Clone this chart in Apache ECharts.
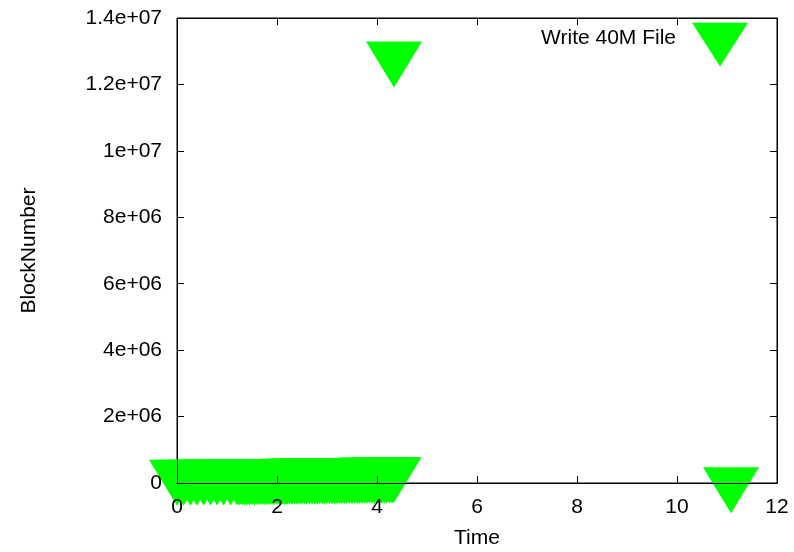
<!DOCTYPE html>
<html>
<head>
<meta charset="utf-8">
<script src="https://cdn.jsdelivr.net/npm/echarts@6/dist/echarts.min.js"></script>
<style>
  html, body { margin: 0; padding: 0; background: #fff; }
  #chart { width: 794px; height: 552px; }
</style>
</head>
<body>
<div id="chart"></div>
<script>
// seconds since start of the write
var times = [
  0, 0.13, 0.27, 0.4, 0.53, 0.67, 0.8, 0.93, 1.07, 1.2,
  1.25, 1.3, 1.35, 1.4, 1.45, 1.5, 1.55, 1.6, 1.65, 1.7,
  1.75, 1.8, 1.85, 1.9, 1.95, 2.0, 2.05, 2.1, 2.15, 2.2,
  2.25, 2.3, 2.35, 2.4, 2.45, 2.5, 2.55, 2.6, 2.65, 2.7,
  2.75, 2.8, 2.85, 2.9, 2.95, 3.0, 3.05, 3.1, 3.15, 3.2,
  3.25, 3.3, 3.35, 3.4, 3.45, 3.5, 3.55, 3.6, 3.65, 3.7,
  3.75, 3.8, 3.85, 3.9, 3.95, 4.0, 4.05, 4.1, 4.15, 4.2,
  4.25, 4.3, 4.33, 4.34, 11.08
];
// block number written at each time
var blocks = [
  250000, 251000, 251500, 252000, 252500, 253000, 253000, 254000, 254500, 255000,
  256000, 256500, 257800, 258400, 259600, 260100, 261500, 262000, 263300, 264000,
  265200, 266100, 266900, 268000, 268800, 270100, 270900, 272000, 272600, 274000,
  274800, 276000, 276900, 277700, 279000, 279800, 281000, 281900, 283000, 283700,
  285000, 285900, 287100, 288000, 288800, 290000, 291200, 292000, 293100, 294000,
  295200, 296000, 297100, 298000, 299200, 300100, 301000, 302200, 303000, 304100,
  305000, 306200, 307000, 308100, 309000, 310200, 311000, 312300, 313100, 314200,
  315000, 317000, 320000, 12840000, 25000
];
var seriesName = 'Write 40M File';
var xTicks = [0, 2, 4, 6, 8, 10, 12];
var yTicks = [0, 2e6, 4e6, 6e6, 8e6, 1e7, 1.2e7, 1.4e7];

var font = 'Liberation Sans';
var fontSize = 21;

// gnuplot style: 1.2e+07
function expLabel(v) {
  if (v === 0) return '0';
  var s = v.toExponential();
  var parts = s.split('e');
  var sign = parts[1].charAt(0);
  var num = parts[1].slice(1);
  if (num.length < 2) num = '0' + num;
  return parts[0] + 'e' + sign + num;
}

var points = [];
for (var i = 0; i < times.length; i++) {
  points.push([times[i], blocks[i]]);
}

var tri = 'path://M0,0 L2,0 L1,1.65 Z';
// same triangle, with an empty move above it so the legend icon sits lower
var legendTri = 'path://M1,-0.49 L1,-0.49 M0,0 L2,0 L1,1.57 Z';

var chart = echarts.init(document.getElementById('chart'));
var axisText = { color: '#000', fontFamily: font, fontSize: fontSize };
var lineStyle = { color: '#000', width: 1 };

var option = {
  animation: false,
  backgroundColor: '#fff',
  textStyle: { fontFamily: font },
  grid: {
    left: 177, right: 17, top: 18, bottom: 69,
    outerBoundsMode: 'none',
    containLabel: false,
    show: true, borderColor: '#000', borderWidth: 1
  },
  legend: {
    right: 46, top: 9, padding: 0,
    align: 'right',
    itemWidth: 56, itemHeight: 57.6,
    data: [{ name: seriesName, icon: legendTri }],
    textStyle: { color: '#000', fontFamily: font, fontSize: fontSize, padding: [0, 11, 0, 0] }
  },
  xAxis: [{
    type: 'value', min: xTicks[0], max: xTicks[xTicks.length - 1], interval: 2,
    z: 5,
    name: 'Time', nameLocation: 'middle', nameGap: 45,
    nameTextStyle: axisText,
    axisLine: { onZero: false, lineStyle: lineStyle },
    axisTick: { inside: true, length: 7, lineStyle: lineStyle },
    axisLabel: Object.assign({ margin: 14 }, axisText),
    splitLine: { show: false }
  }, {
    type: 'value', position: 'top', min: 0, max: 12, interval: 2,
    z: 5,
    axisLine: { onZero: false, lineStyle: lineStyle },
    axisTick: { inside: true, length: 7, lineStyle: lineStyle },
    axisLabel: { show: false },
    splitLine: { show: false }
  }],
  yAxis: [{
    type: 'value', min: yTicks[0], max: yTicks[yTicks.length - 1], interval: 2e6,
    z: 5,
    name: 'BlockNumber', nameLocation: 'middle', nameGap: 137, nameRotate: 90,
    nameTextStyle: axisText,
    axisLine: { show: true, onZero: false, lineStyle: lineStyle },
    axisTick: { show: true, inside: true, length: 7, lineStyle: lineStyle },
    axisLabel: Object.assign({ margin: 15, formatter: expLabel }, axisText),
    splitLine: { show: false }
  }, {
    type: 'value', position: 'right', min: 0, max: 1.4e7, interval: 2e6,
    z: 5,
    axisLine: { show: true, onZero: false, lineStyle: lineStyle },
    axisTick: { show: true, inside: true, length: 7, lineStyle: lineStyle },
    axisLabel: { show: false },
    splitLine: { show: false }
  }],
  series: [{
    name: seriesName,
    type: 'scatter',
    xAxisIndex: 0, yAxisIndex: 0,
    data: points,
    symbol: tri,
    symbolSize: [56, 46],
    symbolKeepAspect: false,
    symbolOffset: [0, 8],
    clip: false,
    itemStyle: { color: '#00ff00', opacity: 1 }
  }]
};
chart.setOption(option);
</script>
</body>
</html>
